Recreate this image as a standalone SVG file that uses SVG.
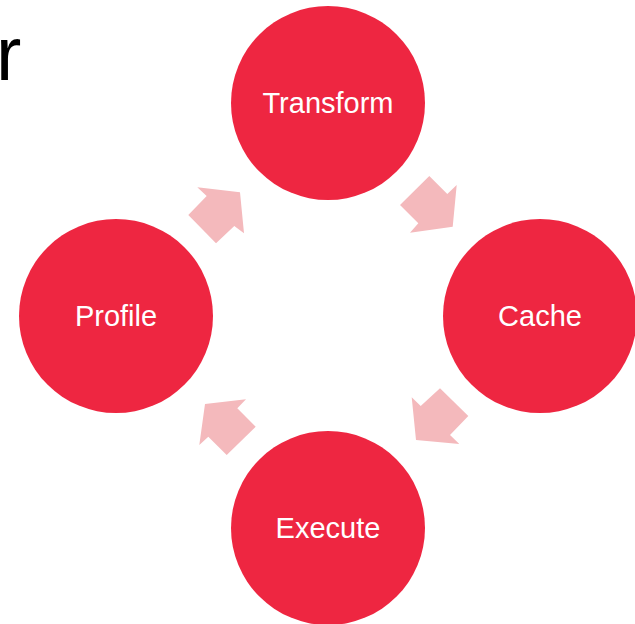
<svg xmlns="http://www.w3.org/2000/svg" width="635" height="624" viewBox="0 0 635 624">
<style>
.node{fill:#EE2641}
.lbl{fill:#FFFFFF;font-family:"Liberation Sans",Arial,sans-serif;font-size:29px;text-anchor:middle}
.arr{fill:#F4B9BC}
.title{fill:#000000;font-family:"Liberation Sans",Arial,sans-serif;font-size:76px}
</style>
<rect width="635" height="624" fill="#FFFFFF"/>
<text class="title" x="-4" y="80">r</text>
<g id="connectors">
<polygon class="arr" points="197.3,187.3 206.7,196 188.3,215 216,243.3 234.3,226 244,233.3 240,192.3"/>
<polygon class="arr" points="429.3,176 447.3,194 456.7,185 452.7,226.7 410,232.7 418.3,223.3 400,205"/>
<polygon class="arr" points="440,388.3 468.3,416 450,435 459.3,444 416,440 411.7,397.3 420.7,406"/>
<polygon class="arr" points="205,404 246,399.3 237.3,408.3 255.7,426.7 226.7,455 208.3,436.7 199.3,445"/>
</g>
<g id="transform"><circle class="node" cx="328" cy="103" r="97"/><text class="lbl" x="328" y="113">Transform</text></g>
<g id="cache"><circle class="node" cx="540" cy="316" r="97"/><text class="lbl" x="540" y="326">Cache</text></g>
<g id="execute"><circle class="node" cx="328" cy="528" r="97"/><text class="lbl" x="328" y="538">Execute</text></g>
<g id="profile"><circle class="node" cx="116" cy="316" r="97"/><text class="lbl" x="116" y="326">Profile</text></g>
</svg>
